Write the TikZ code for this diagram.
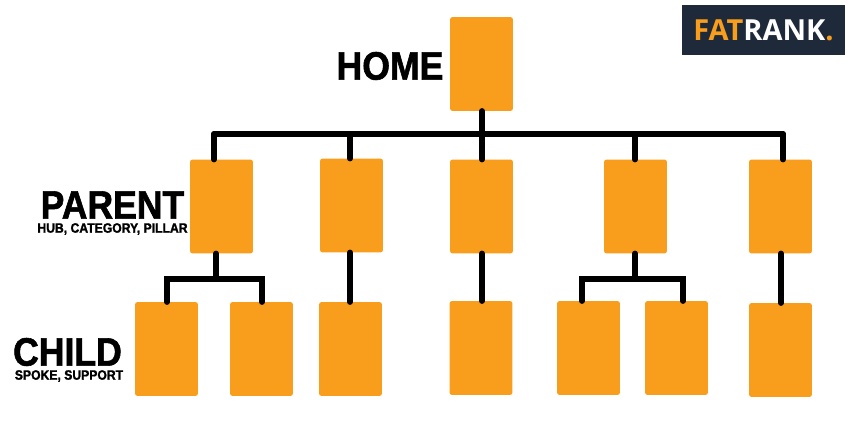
\documentclass[tikz,border=0pt]{standalone}
\usepackage{fontspec}
\setmainfont{Liberation Sans}
\newfontfamily\heavyfont[BoldFeatures={FakeBold=1.5,FakeStretch=0.9}]{Liberation Sans}
\newfontfamily\logofont{Open Sans}
\usepackage{tikz}
\definecolor{pageorange}{HTML}{F99D1C}
\definecolor{logonavy}{HTML}{1E2A3A}

\begin{document}
\begin{tikzpicture}[
        x=0.02cm, y=-0.02cm,
        every node/.style={align=center, outer sep=0pt},
        page/.style={rectangle, rounded corners=1.5pt, fill=pageorange,
                     minimum width=1.26cm, minimum height=1.88cm, inner sep=0pt},
        link/.style={draw=black, line width=0.115cm, line cap=round},
        tier/.style={font=\heavyfont\bfseries\fontsize{22.5}{24}\selectfont, text=black, inner sep=0pt},
        tiersub/.style={font=\heavyfont\bfseries\fontsize{7.7}{8}\selectfont, text=black, inner sep=0pt},
        logo/.style={rectangle, fill=logonavy, minimum width=3.26cm, minimum height=1.01cm, inner sep=0pt,
                     font=\logofont\bfseries\fontsize{16.5}{18}\selectfont, text=white}
    ]
        \useasboundingbox (0,0) rectangle (850,425);

        % --- Home ---
        \node[page] (home) at (481.5,64) {};

        % --- Parents ---
        \node[page] (parentA) at (221.5,206.5) {};
        \node[page] (parentB) at (351.5,205.5) {};
        \node[page] (parentC) at (481.5,206.5) {};
        \node[page] (parentD) at (635.5,206.5) {};
        \node[page] (parentE) at (780.5,206.5) {};

        % --- Children ---
        \node[page] (childAa) at (166.5,349) {};
        \node[page] (childAb) at (261.5,349) {};
        \node[page] (childB) at (350.5,349) {};
        \node[page] (childC) at (481,348) {};
        \node[page] (childDa) at (588.5,348) {};
        \node[page] (childDb) at (676.5,348) {};
        \node[page] (childE) at (780.5,350) {};

        % --- Bus lines ---
        \coordinate (busL) at (214,134);
        \coordinate (busR) at (783,134);
        \coordinate (busB) at (350,134);
        \coordinate (busC) at (482,134);
        \coordinate (busD) at (635,134);
        \coordinate (forkA) at (216,279);
        \coordinate (forkAa) at (167,279);
        \coordinate (forkAb) at (262,279);
        \coordinate (forkD) at (635,279);
        \coordinate (forkDa) at (582,279);
        \coordinate (forkDb) at (683,279);
        \coordinate (dropE) at (781,253);

        \draw[link] (busL) -- (busR);
        \draw[link] (busC |- home.south) -- (busC |- parentC.north);
        \draw[link] (busL) -- (busL |- parentA.north);
        \draw[link] (busB) -- (busB |- parentB.north);
        \draw[link] (busD) -- (busD |- parentD.north);
        \draw[link] (busR) -- (busR |- parentE.north);

        % --- Parent to child ---
        \draw[link] (forkA |- parentA.south) -- (forkA);
        \draw[link] (forkAa |- childAa.north) -- (forkAa) -- (forkAb) -- (forkAb |- childAb.north);
        \draw[link] (busB |- parentB.south) -- (busB |- childB.north);
        \draw[link] (busC |- parentC.south) -- (busC |- childC.north);
        \draw[link] (forkD |- parentD.south) -- (forkD);
        \draw[link] (forkDa |- childDa.north) -- (forkDa) -- (forkDb) -- (forkDb |- childDb.north);
        \draw[link] (dropE |- parentE.south) -- (dropE |- childE.north);

        % --- Tier labels ---
        \node[tier] (lblHome) at (390,66) {HOME};
        \node[tier] (lblParent) at (112.5,205) {PARENT};
        \node[tiersub] (subParent) at (112.5,229) {HUB, CATEGORY, PILLAR};
        \node[tier] (lblChild) at (67.5,352) {CHILD};
        \node[tiersub] (subChild) at (69,376) {SPOKE, SUPPORT};

        % --- Logo ---
        \node[logo] (logoBox) at (763.5,30.2)
            {{\color{pageorange}FAT}RANK{\color{pageorange}.}};
    \end{tikzpicture}
\end{document}
